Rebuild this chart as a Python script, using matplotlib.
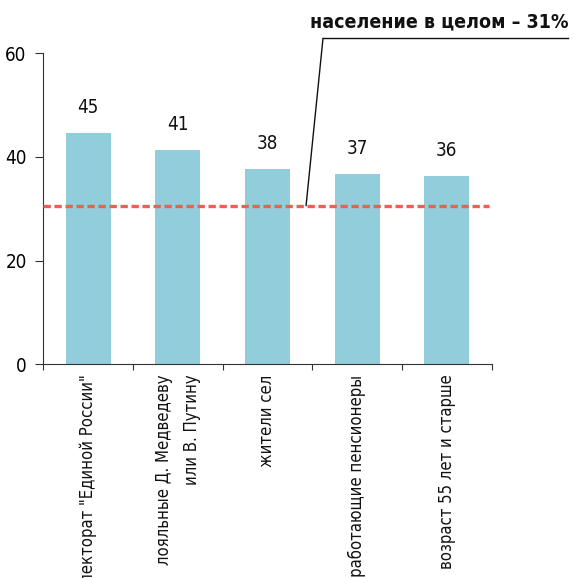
import matplotlib
matplotlib.use("Agg")
import matplotlib.pyplot as plt

plt.rcParams['font.family'] = ['DejaVu Sans']
plt.rcParams['font.stretch'] = 'condensed'

categories = ['электорат "Единой России"',
              'лояльные Д. Медведеву\nили В. Путину',
              'жители сел',
              'неработающие пенсионеры',
              'возраст 55 лет и старше']
values = [44.7, 41.3, 37.7, 36.7, 36.3]
labels = ['45', '41', '38', '37', '36']
overall = 30.6
overall_text = 'население в целом – 31%'
yticks = [0, 20, 40, 60]

W, H = 574, 578
fig = plt.figure(figsize=(W/100, H/100), dpi=100)
ax = fig.add_axes([43.3/W, 1-364.3/H, 448.4/W, 311/H])
x = list(range(len(categories)))
ax.bar(x, values, width=0.5, color='#92CDDC', zorder=2)
for xi, v, l in zip(x, values, labels):
    ax.text(xi, v + 3.1, l, ha='center', va='bottom', fontsize=13.5, color='#111111')

ax.axhline(overall, xmin=0.0, xmax=0.995, color='#F45B55', lw=2.4,
           ls=(0, (2.2, 1.1)), zorder=3)

ax.set_xlim(-0.5, 4.5)
ax.set_ylim(0, 60)
ax.set_yticks(yticks)
ax.set_yticklabels([str(t) for t in yticks], fontsize=13.5)
ax.set_xticks([i + 0.5 for i in range(len(categories) - 1)] + [-0.5, 4.5])
ax.set_xticklabels([])
ax.tick_params(axis='x', length=4, direction='out', color='#333333')
ax.tick_params(axis='y', length=6, direction='out', color='#333333', pad=6)
for xi, c in zip(x, categories):
    ax.text(xi, -2.0, c, rotation=90, ha='center', va='top', multialignment='right',
            fontsize=12.0, color='#111111', linespacing=1.68)
for s in ['top', 'right']:
    ax.spines[s].set_visible(False)
ax.spines['left'].set_color('#333333')
ax.spines['bottom'].set_color('#333333')

# annotation leader line
ax.annotate('', xy=(2.43, overall), xycoords='data',
            xytext=(323/W, 1-38.3/H), textcoords='figure fraction',
            arrowprops=dict(arrowstyle='-', color='#111111', lw=1, shrinkA=0, shrinkB=0))
fig.add_artist(plt.Line2D([323/W, 568/W], [1-38.3/H, 1-38.3/H], color='#111111', lw=1,
                          transform=fig.transFigure))
fig.text(568/W, 1-22/H, overall_text, ha='right', va='center', fontsize=14,
         fontweight='bold', color='#111111')

fig.savefig('out.png', dpi=100)
